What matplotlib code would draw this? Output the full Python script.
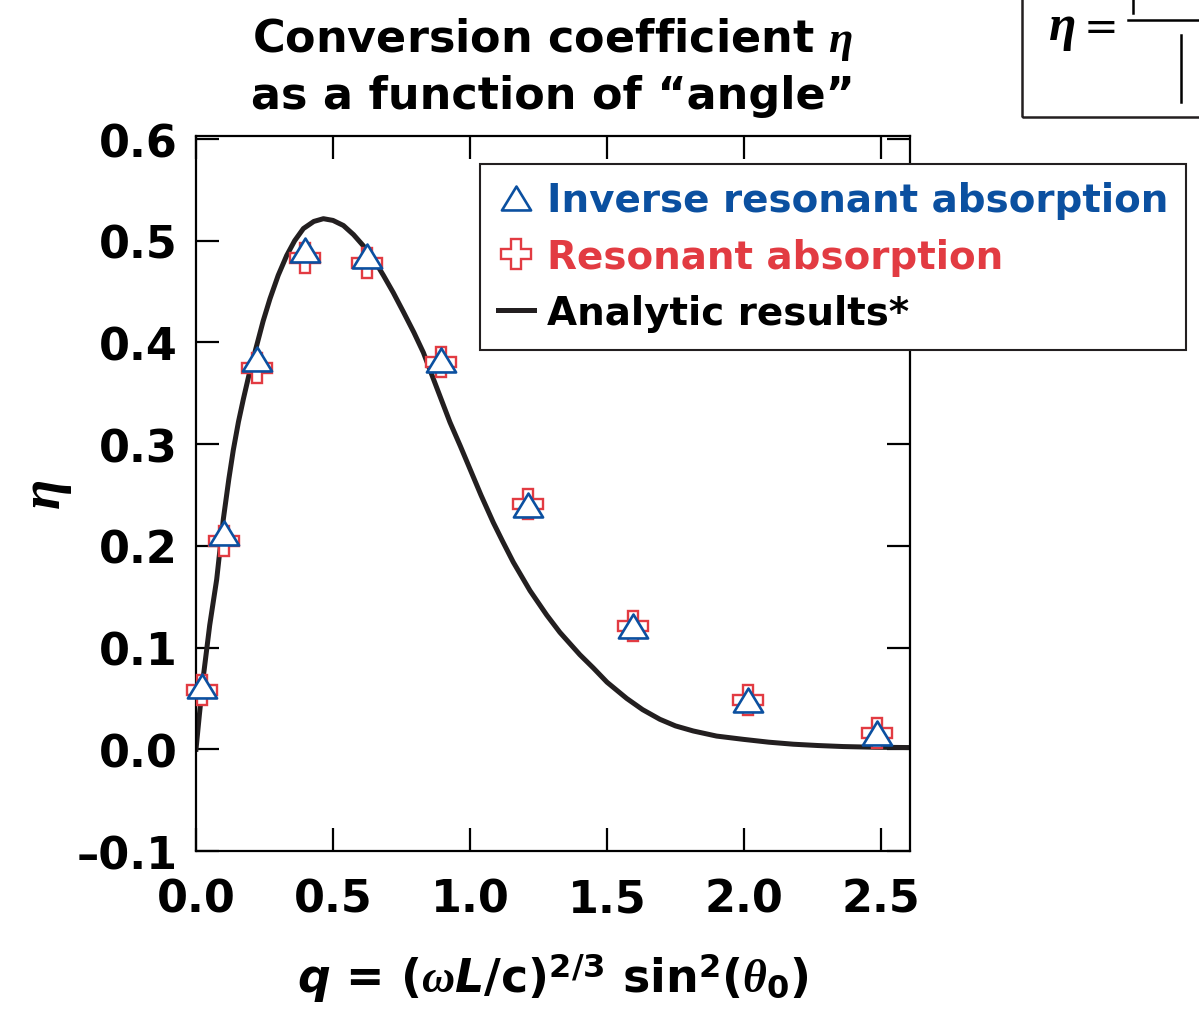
import matplotlib
matplotlib.use("Agg")
import matplotlib.pyplot as plt
from matplotlib.path import Path
from matplotlib.lines import Line2D
from matplotlib.patches import Rectangle

# simulated points
q_pts = [0.023, 0.102, 0.224, 0.398, 0.623, 0.893, 1.213, 1.596, 2.015, 2.484]
eta_inverse = [0.062, 0.213, 0.384, 0.491, 0.485, 0.383, 0.240, 0.121, 0.048, 0.016]
eta_resonant = [0.058, 0.205, 0.375, 0.483, 0.478, 0.381, 0.241, 0.121, 0.048, 0.016]

# analytic curve, sampled from the figure
q_curve = [0.0, 0.012, 0.027, 0.05, 0.0755, 0.0996, 0.12, 0.136, 0.155, 0.173,
           0.195, 0.2215, 0.245, 0.270, 0.30, 0.331, 0.36, 0.392, 0.43, 0.465,
           0.50, 0.538, 0.575, 0.611, 0.648, 0.684, 0.72, 0.757, 0.795, 0.830,
           0.878, 0.927, 0.965, 1.000, 1.04, 1.085, 1.12, 1.158, 1.219, 1.280,
           1.328, 1.401, 1.450, 1.50, 1.572, 1.63, 1.693, 1.75, 1.815, 1.90,
           1.997, 2.09, 2.18, 2.27, 2.362, 2.48, 2.606]
eta_curve = [0.0, 0.033, 0.072, 0.122, 0.167, 0.226, 0.266, 0.294, 0.322, 0.3445,
             0.370, 0.397, 0.421, 0.443, 0.466, 0.4855, 0.500, 0.512, 0.519, 0.5217,
             0.520, 0.515, 0.506, 0.495, 0.482, 0.466, 0.449, 0.430, 0.410, 0.390,
             0.356, 0.3215, 0.298, 0.2756, 0.250, 0.223, 0.204, 0.184, 0.156, 0.132,
             0.115, 0.093, 0.080, 0.066, 0.050, 0.039, 0.0295, 0.023, 0.018, 0.013,
             0.0098, 0.007, 0.005, 0.0037, 0.0027, 0.002, 0.0017]

x_ticks = [0.0, 0.5, 1.0, 1.5, 2.0, 2.5]
y_ticks = [-0.1, 0.0, 0.1, 0.2, 0.3, 0.4, 0.5, 0.6]
labels = ["Inverse resonant absorption", "Resonant absorption", "Analytic results*"]

BLUE = "#0b50a0"
RED = "#e23b42"
DARK = "#231f20"

plt.rcParams["font.family"] = ["DejaVu Sans"]
plt.rcParams["font.weight"] = "bold"
plt.rcParams["mathtext.fontset"] = "custom"
plt.rcParams["mathtext.rm"] = "DejaVu Sans:bold"
plt.rcParams["mathtext.bf"] = "DejaVu Sans:bold"
plt.rcParams["mathtext.sf"] = "DejaVu Sans:bold:italic"
plt.rcParams["mathtext.it"] = "Liberation Serif:bold:italic"

W, H = 1199, 1012
fig = plt.figure(figsize=(W / 100, H / 100), dpi=100)
ax = fig.add_axes([196 / W, 1 - 852 / H, (910 - 196) / W, (852 - 137) / H])

tri = Path([(0, 0.82), (-1, -0.82), (1, -0.82), (0, 0.82)],
           [Path.MOVETO, Path.LINETO, Path.LINETO, Path.CLOSEPOLY])

line, = ax.plot(q_curve, eta_curve, color=DARK, lw=3.6, zorder=2,
                solid_joinstyle="round")
plus, = ax.plot(q_pts, eta_resonant, ls="none", marker="P", ms=21.5, mfc="white",
                mec=RED, mew=1.7, zorder=3, clip_on=False)
triang, = ax.plot(q_pts, eta_inverse, ls="none", marker=tri, ms=21, mfc="white",
                  mec=BLUE, mew=1.9, zorder=4, clip_on=False)

ax.set_xlim(0, 2.606)
ax.set_ylim(-0.1, 0.603)
ax.set_xticks(x_ticks, labels=[f"{v:.1f}" for v in x_ticks])
ax.set_yticks(y_ticks, labels=[f"{v:.1f}".replace("-", "\u2013") for v in y_ticks])
ax.tick_params(direction="in", length=16.5, width=1.6, top=True, right=True,
               labelsize=32, colors="black")
ax.tick_params(axis="x", pad=19)
ax.tick_params(axis="y", pad=13)
for s in ax.spines.values():
    s.set_linewidth(1.6)

leg = ax.legend([triang, plus, line], labels, loc="upper left",
                bbox_to_anchor=(480 / W, 1 - 165 / H), bbox_transform=fig.transFigure,
                fontsize=28, frameon=True, fancybox=False, borderaxespad=0,
                borderpad=0.45, handlelength=0.95, handletextpad=0.33,
                labelspacing=0.47, framealpha=1)
leg.get_frame().set_edgecolor(DARK)
leg.get_frame().set_linewidth(1.5)
for t, c in zip(leg.get_texts(), [BLUE, RED, "black"]):
    t.set_color(c)
leg.set_zorder(10)

# titles and axis labels
fig.text(553 / W, 1 - 52 / H, r"Conversion coefficient $\eta$", ha="center",
         va="baseline", fontsize=32, fontweight="bold")
fig.text(553 / W, 1 - 109 / H, "as a function of \u201cangle\u201d", ha="center",
         va="baseline", fontsize=32, fontweight="bold")
fig.text(553 / W, 1 - 993 / H,
         r"$\mathsf{q}$ = ($\omega\mathsf{L}$/c)$^{2/3}$ sin$^2$($\theta_0$)",
         ha="center", va="baseline", fontsize=33, fontweight="bold")
fig.text(47 / W, 1 - 495 / H, r"$\eta$", rotation=90, ha="center", va="center",
         fontsize=40)

# cropped equation box at the top right
fig.patches.append(Rectangle((1022 / W, 1 - 118 / H), 0.3, 0.3, fill=False,
                             lw=1.8, ec=DARK, transform=fig.transFigure))
fig.text(1062 / W, 1 - 40 / H, r"$\eta$", ha="center", va="baseline", fontsize=36)
fig.text(1101 / W, 1 - 40 / H, "=", ha="center", va="baseline", fontsize=30,
         fontweight="normal")
for xs, ys in [((1128, 1199), (21, 21)), ((1133, 1133), (0, 14)), ((1181, 1181), (36, 103))]:
    fig.lines.append(Line2D([x / W for x in xs], [1 - y / H for y in ys],
                            color="black", lw=1.8, transform=fig.transFigure))

fig.savefig("out.png", dpi=100)
